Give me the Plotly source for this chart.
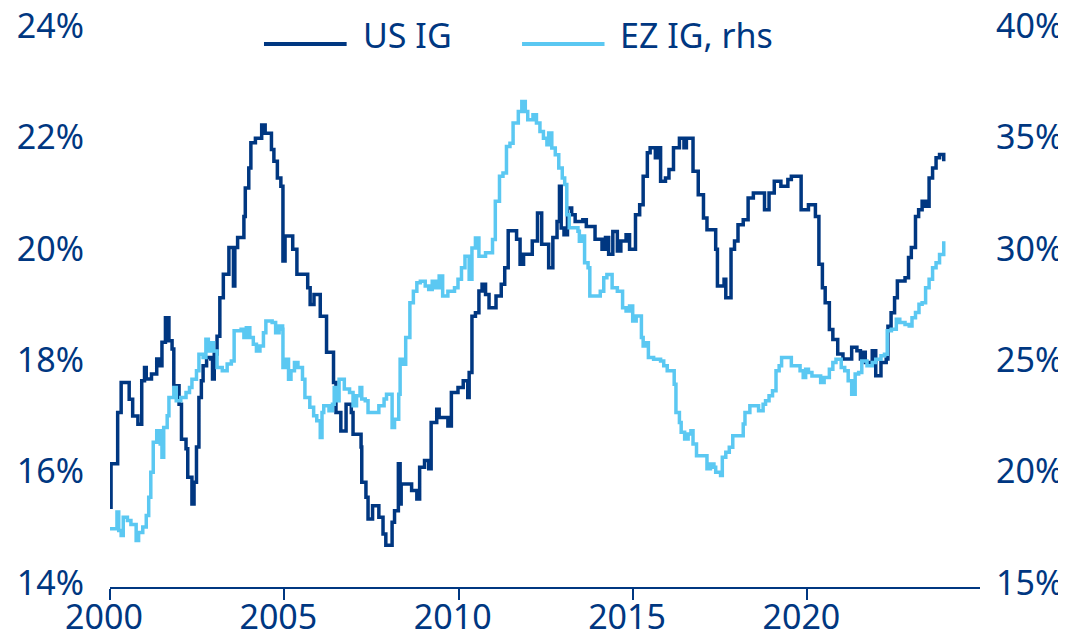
import plotly.graph_objects as go

# ---- data ----
us_year = [2000.00, 2000.03, 2000.22, 2000.32, 2000.55, 2000.65, 2000.80, 2000.91, 2000.99, 2001.04,
           2001.19, 2001.34, 2001.41, 2001.49, 2001.59, 2001.69, 2001.78, 2001.83, 2001.98, 2002.05,
           2002.18, 2002.23, 2002.35, 2002.41, 2002.48, 2002.55, 2002.62, 2002.67, 2002.77, 2002.89,
           2002.94, 2002.99, 2003.07, 2003.15, 2003.25, 2003.41, 2003.54, 2003.58, 2003.66, 2003.84,
           2003.88, 2003.98, 2004.04, 2004.17, 2004.35, 2004.45, 2004.63, 2004.70, 2004.80, 2004.90,
           2004.96, 2005.02, 2005.09, 2005.24, 2005.36, 2005.67, 2005.74, 2005.85, 2006.03, 2006.21,
           2006.41, 2006.48, 2006.62, 2006.77, 2006.92, 2006.97, 2007.20, 2007.22, 2007.34, 2007.40,
           2007.53, 2007.71, 2007.83, 2007.91, 2008.09, 2008.16, 2008.27, 2008.32, 2008.35, 2008.65,
           2008.80, 2008.88, 2009.02, 2009.14, 2009.21, 2009.37, 2009.44, 2009.69, 2009.79, 2009.98,
           2010.13, 2010.26, 2010.30, 2010.38, 2010.48, 2010.58, 2010.67, 2010.77, 2010.87, 2011.07,
           2011.22, 2011.32, 2011.42, 2011.66, 2011.76, 2011.86, 2012.11, 2012.26, 2012.38, 2012.58,
           2012.70, 2012.82, 2012.89, 2012.94, 2013.02, 2013.12, 2013.24, 2013.34, 2013.56, 2013.66,
           2013.91, 2014.11, 2014.21, 2014.30, 2014.42, 2014.55, 2014.65, 2014.80, 2014.90, 2015.07,
           2015.19, 2015.29, 2015.41, 2015.49, 2015.64, 2015.71, 2015.79, 2015.93, 2016.03, 2016.16,
           2016.33, 2016.46, 2016.53, 2016.72, 2016.87, 2017.02, 2017.12, 2017.37, 2017.42, 2017.61,
           2017.66, 2017.81, 2017.91, 2018.01, 2018.16, 2018.30, 2018.45, 2018.77, 2018.90, 2019.05,
           2019.24, 2019.44, 2019.54, 2019.82, 2020.03, 2020.23, 2020.33, 2020.43, 2020.51, 2020.63,
           2020.73, 2020.87, 2021.02, 2021.27, 2021.42, 2021.52, 2021.56, 2021.66, 2021.86, 2021.96,
           2022.11, 2022.26, 2022.31, 2022.40, 2022.50, 2022.58, 2022.80, 2022.90, 2022.98, 2023.10,
           2023.19, 2023.29, 2023.39, 2023.49, 2023.59, 2023.69, 2023.79, 2023.91]
us_ig = [15.43, 16.21, 17.13, 17.67, 17.37, 17.07, 16.92, 17.70, 17.94, 17.73,
         17.82, 18.09, 17.97, 18.39, 18.83, 18.42, 18.27, 17.61, 17.28, 16.65,
         16.48, 15.97, 15.49, 15.88, 16.51, 17.40, 17.70, 17.97, 18.12, 18.09,
         17.73, 18.18, 18.50, 19.19, 19.61, 20.09, 19.40, 20.09, 20.27, 20.65,
         21.16, 21.52, 21.97, 22.05, 22.29, 22.14, 21.85, 21.64, 21.34, 21.19,
         19.85, 20.30, 20.30, 20.06, 19.61, 19.37, 19.07, 19.25, 18.86, 18.21,
         17.67, 17.13, 16.80, 17.28, 17.13, 16.74, 16.51, 15.88, 15.61, 15.22,
         15.46, 15.25, 14.95, 14.75, 15.16, 15.37, 16.21, 15.49, 15.85, 15.73,
         15.58, 16.15, 16.27, 16.12, 16.95, 17.19, 17.04, 16.89, 17.49, 17.58,
         17.70, 17.40, 17.85, 18.86, 18.92, 19.31, 19.43, 19.25, 19.01, 19.22,
         19.43, 19.73, 20.39, 20.24, 19.79, 19.97, 20.21, 20.71, 20.15, 19.73,
         20.27, 20.56, 21.19, 20.44, 20.32, 20.80, 20.68, 20.56, 20.59, 20.47,
         20.24, 20.06, 20.27, 19.97, 20.38, 20.03, 20.21, 20.32, 20.06, 20.68,
         20.86, 21.37, 21.79, 21.88, 21.70, 21.88, 21.28, 21.34, 21.49, 21.88,
         22.05, 21.88, 22.05, 21.46, 21.04, 20.62, 20.41, 20.06, 19.40, 19.52,
         19.19, 20.06, 20.21, 20.50, 20.59, 20.98, 21.07, 20.77, 21.07, 21.28,
         21.19, 21.31, 21.37, 20.77, 20.86, 20.65, 19.79, 19.37, 19.10, 18.62,
         18.44, 18.18, 18.09, 18.30, 18.24, 18.09, 18.21, 18.03, 18.24, 17.79,
         18.03, 18.09, 18.68, 18.92, 19.19, 19.49, 19.55, 19.91, 20.09, 20.65,
         20.77, 20.92, 20.83, 21.34, 21.52, 21.70, 21.76, 21.64]

ez_year = [2000.00, 2000.20, 2000.25, 2000.32, 2000.38, 2000.50, 2000.60, 2000.75, 2000.82, 2000.94,
           2001.04, 2001.11, 2001.17, 2001.24, 2001.34, 2001.44, 2001.49, 2001.54, 2001.64, 2001.69,
           2001.83, 2001.90, 2002.03, 2002.18, 2002.28, 2002.35, 2002.48, 2002.55, 2002.67, 2002.75,
           2002.82, 2002.89, 2002.97, 2003.07, 2003.22, 2003.36, 2003.48, 2003.56, 2003.76, 2003.84,
           2003.91, 2004.01, 2004.11, 2004.20, 2004.30, 2004.40, 2004.47, 2004.65, 2004.75, 2004.85,
           2004.95, 2004.96, 2005.04, 2005.12, 2005.19, 2005.29, 2005.39, 2005.52, 2005.59, 2005.73,
           2005.84, 2005.93, 2006.03, 2006.08, 2006.13, 2006.28, 2006.38, 2006.43, 2006.50, 2006.57,
           2006.72, 2006.87, 2006.97, 2007.07, 2007.17, 2007.22, 2007.32, 2007.40, 2007.71, 2007.86,
           2007.93, 2008.09, 2008.16, 2008.28, 2008.32, 2008.40, 2008.48, 2008.60, 2008.70, 2008.80,
           2008.90, 2009.04, 2009.14, 2009.24, 2009.34, 2009.44, 2009.54, 2009.69, 2009.88, 2009.98,
           2010.08, 2010.18, 2010.30, 2010.38, 2010.48, 2010.58, 2010.77, 2010.97, 2011.05, 2011.17,
           2011.27, 2011.37, 2011.47, 2011.56, 2011.71, 2011.81, 2011.91, 2011.98, 2012.13, 2012.23,
           2012.33, 2012.43, 2012.53, 2012.58, 2012.67, 2012.77, 2012.87, 2012.97, 2013.04, 2013.10,
           2013.17, 2013.42, 2013.46, 2013.56, 2013.61, 2013.71, 2013.76, 2014.06, 2014.16, 2014.25,
           2014.40, 2014.55, 2014.70, 2014.80, 2014.90, 2014.99, 2015.09, 2015.24, 2015.29, 2015.39,
           2015.44, 2015.59, 2015.79, 2015.88, 2015.98, 2016.18, 2016.23, 2016.33, 2016.38, 2016.48,
           2016.58, 2016.66, 2016.72, 2016.82, 2017.12, 2017.22, 2017.32, 2017.37, 2017.51, 2017.56,
           2017.66, 2017.76, 2017.86, 2018.16, 2018.21, 2018.35, 2018.60, 2018.73, 2018.80, 2018.90,
           2019.00, 2019.10, 2019.19, 2019.26, 2019.54, 2019.79, 2019.88, 2019.95, 2020.03, 2020.13,
           2020.38, 2020.48, 2020.63, 2020.73, 2020.82, 2020.97, 2021.07, 2021.17, 2021.27, 2021.37,
           2021.47, 2021.56, 2021.71, 2021.86, 2021.96, 2022.11, 2022.21, 2022.29, 2022.41, 2022.55,
           2022.65, 2022.80, 2022.92, 2023.00, 2023.10, 2023.20, 2023.29, 2023.39, 2023.49, 2023.59,
           2023.69, 2023.79, 2023.91]
ez_ig = [17.61, 18.36, 17.54, 17.31, 18.13, 17.98, 17.80, 17.09, 17.45, 17.69,
         18.21, 19.03, 20.15, 21.49, 22.01, 21.41, 20.82, 22.16, 22.68, 23.50,
         23.95, 23.35, 23.50, 23.73, 23.95, 24.32, 24.70, 25.44, 25.29, 26.11,
         25.59, 25.96, 25.59, 24.85, 24.70, 25.00, 25.14, 26.49, 26.56, 26.19,
         26.63, 26.19, 25.89, 25.59, 25.81, 26.41, 26.93, 26.86, 26.41, 26.71,
         26.56, 24.85, 25.22, 24.32, 24.70, 25.07, 24.85, 24.32, 23.50, 23.06,
         22.68, 22.46, 21.71, 22.83, 23.13, 22.91, 23.20, 23.95, 23.35, 24.32,
         23.88, 23.73, 23.13, 23.58, 23.95, 23.43, 23.35, 22.83, 23.13, 23.43,
         23.65, 22.16, 22.53, 23.65, 25.22, 24.99, 26.19, 27.75, 28.27, 28.65,
         28.72, 28.50, 28.35, 28.72, 28.42, 28.95, 28.05, 28.27, 28.42, 28.80,
         29.32, 29.84, 28.80, 30.21, 30.66, 29.84, 29.99, 30.59, 32.30, 33.42,
         33.57, 34.76, 34.91, 35.81, 36.33, 36.78, 36.33, 35.96, 36.18, 35.81,
         35.43, 35.13, 34.84, 35.36, 34.69, 34.39, 33.79, 33.35, 33.05, 31.70,
         31.11, 30.96, 30.51, 30.74, 29.54, 29.32, 28.05, 28.27, 28.87, 29.02,
         28.42, 28.27, 27.53, 27.38, 27.60, 26.93, 27.16, 26.19, 25.81, 25.96,
         25.29, 25.22, 25.14, 24.92, 24.70, 24.10, 22.83, 22.38, 21.94, 21.64,
         21.86, 22.01, 21.41, 20.89, 20.30, 20.52, 20.37, 20.15, 20.00, 20.82,
         21.04, 21.27, 21.79, 22.31, 22.83, 23.13, 22.91, 23.20, 23.35, 23.58,
         23.80, 24.70, 24.92, 25.29, 24.92, 24.70, 24.40, 24.77, 24.62, 24.47,
         24.17, 24.40, 24.77, 25.07, 25.22, 24.85, 24.70, 24.25, 23.65, 24.55,
         24.62, 25.14, 24.92, 25.07, 25.22, 25.37, 25.44, 26.49, 26.56, 27.01,
         26.86, 26.78, 26.71, 27.08, 27.31, 27.68, 27.75, 28.42, 28.80, 29.32,
         29.54, 29.92, 30.51]

series_names = ["US IG", "EZ IG, rhs"]
x_ticks = [2000, 2005, 2010, 2015, 2020]
left_ticks = [14, 16, 18, 20, 22, 24]
right_ticks = [15, 20, 25, 30, 35, 40]

NAVY = "#003781"
LIGHT = "#5BC8F2"
FONT = "Noto Sans"
FS = 34

fig = go.Figure()
fig.add_trace(go.Scatter(x=us_year, y=us_ig, name=series_names[0], mode="lines",
                         line=dict(color=NAVY, width=3.5, shape="hv"), yaxis="y", showlegend=False))
fig.add_trace(go.Scatter(x=ez_year, y=ez_ig, name=series_names[1], mode="lines",
                         line=dict(color=LIGHT, width=3.5, shape="hv"), yaxis="y2", showlegend=False))

# legend drawn manually (long line keys as in the reference)
leg_items = [(series_names[0], NAVY, 0.177, 0.272, 0.288), (series_names[1], LIGHT, 0.4736, 0.5684, 0.584)]
for name, col, x0, x1, xt in leg_items:
    fig.add_shape(type="line", xref="paper", yref="paper", x0=x0, x1=x1, y0=0.9714, y1=0.9714,
                  line=dict(color=col, width=4))
    fig.add_annotation(text=name, xref="paper", yref="paper", x=xt, y=0.987, xanchor="left",
                       yanchor="middle", showarrow=False, font=dict(family=FONT, size=FS, color=NAVY))

# the page body has an 8px margin: the figure is sized to fill the rest of the 1066x636 window
fig.update_layout(
    template="none",
    width=1058, height=628,
    margin=dict(l=102, r=86, t=20, b=49, autoexpand=False),
    paper_bgcolor="white", plot_bgcolor="white",
    font=dict(family=FONT, size=FS, color=NAVY),
    xaxis=dict(range=[2000, 2024.95], tickvals=x_ticks, ticktext=[str(v) for v in x_ticks],
               automargin=False, ticklabeloverflow="allow",
               showgrid=False, zeroline=False, showline=True, linecolor=NAVY, linewidth=1.5,
               ticks="outside", ticklen=11, tickwidth=1.5, tickcolor=NAVY, ticklabelshift=-6,
               ticklabelstandoff=-12,
               tickfont=dict(family=FONT, size=FS, color=NAVY)),
    yaxis=dict(range=[14, 24.03], tickvals=left_ticks, ticktext=[f"{v}%" for v in left_ticks],
               automargin=False, ticklabeloverflow="allow",
               showgrid=False, zeroline=False, showline=False, ticks="",
               ticklabelstandoff=25, ticklabelshift=-4,
               tickfont=dict(family=FONT, size=FS, color=NAVY)),
    yaxis2=dict(range=[15, 40.075], tickvals=right_ticks, ticktext=[f"{v}%" for v in right_ticks],
                automargin=False, ticklabeloverflow="allow",
                overlaying="y", side="right", showgrid=False, zeroline=False, showline=False,
                ticks="", ticklabelstandoff=15, ticklabelshift=-4,
                tickfont=dict(family=FONT, size=FS, color=NAVY)),
)

fig.write_html("out.html")
